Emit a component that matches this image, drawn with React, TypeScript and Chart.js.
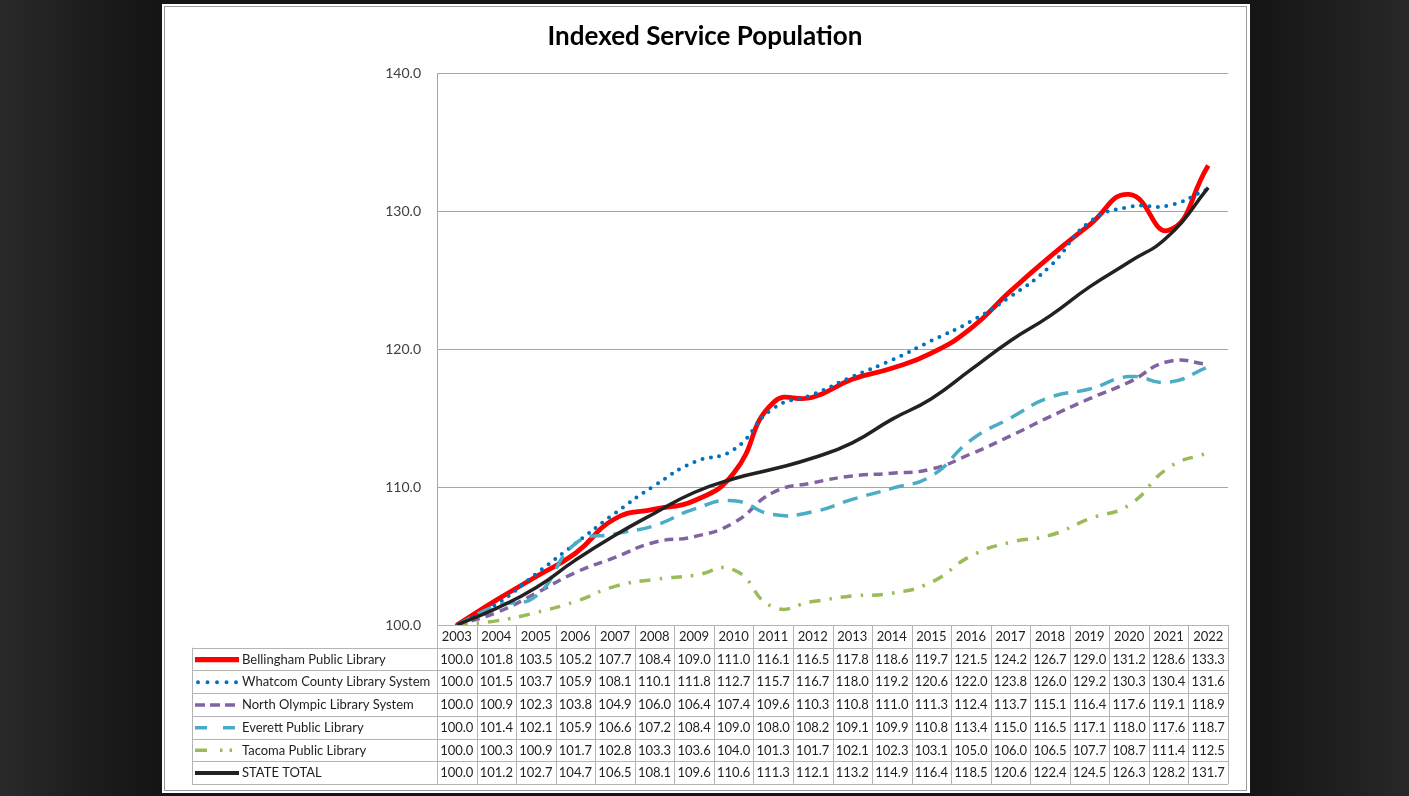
import { useEffect, useRef } from "react";
import { Chart, registerables } from "chart.js";

Chart.register(...registerables);

const title = "Indexed Service Population";
const years = ["2003","2004","2005","2006","2007","2008","2009","2010","2011","2012","2013","2014","2015","2016","2017","2018","2019","2020","2021","2022"];
const bellingham = [100.0,101.8,103.5,105.2,107.7,108.4,109.0,111.0,116.1,116.5,117.8,118.6,119.7,121.5,124.2,126.7,129.0,131.2,128.6,133.3];
const whatcom = [100.0,101.5,103.7,105.9,108.1,110.1,111.8,112.7,115.7,116.7,118.0,119.2,120.6,122.0,123.8,126.0,129.2,130.3,130.4,131.6];
const northOlympic = [100.0,100.9,102.3,103.8,104.9,106.0,106.4,107.4,109.6,110.3,110.8,111.0,111.3,112.4,113.7,115.1,116.4,117.6,119.1,118.9];
const everett = [100.0,101.4,102.1,105.9,106.6,107.2,108.4,109.0,108.0,108.2,109.1,109.9,110.8,113.4,115.0,116.5,117.1,118.0,117.6,118.7];
const tacoma = [100.0,100.3,100.9,101.7,102.8,103.3,103.6,104.0,101.3,101.7,102.1,102.3,103.1,105.0,106.0,106.5,107.7,108.7,111.4,112.5];
const stateTotal = [100.0,101.2,102.7,104.7,106.5,108.1,109.6,110.6,111.3,112.1,113.2,114.9,116.4,118.5,120.6,122.4,124.5,126.3,128.2,131.7];
const yTicks = [100, 110, 120, 130, 140];

type Series = {
  label: string;
  data: number[];
  color: string;
  width: number;
  dash: number[];
  legendDash: number[];
  cap: CanvasLineCap;
  order: number;
};

const series: Series[] = [
  { label: "Bellingham Public Library", data: bellingham, color: "#ff0000", width: 4.8, dash: [], legendDash: [], cap: "butt", order: 6 },
  { label: "Whatcom County Library System", data: whatcom, color: "#0070c0", width: 4, dash: [0, 8.5], legendDash: [0, 9.5], cap: "round", order: 5 },
  { label: "North Olympic Library System", data: northOlympic, color: "#8064a2", width: 3.5, dash: [9, 6], legendDash: [10, 5], cap: "butt", order: 4 },
  { label: "Everett Public Library", data: everett, color: "#4bacc6", width: 3.5, dash: [15, 9], legendDash: [12, 16], cap: "butt", order: 3 },
  { label: "Tacoma Public Library", data: tacoma, color: "#9bbb59", width: 3.5, dash: [11, 9, 2.5, 9], legendDash: [12, 13, 2.5, 7, 2.5, 20], cap: "butt", order: 2 },
  { label: "STATE TOTAL", data: stateTotal, color: "#222222", width: 3.5, dash: [], legendDash: [], cap: "butt", order: 1 },
];

const FONT = "Lato, 'Open Sans', sans-serif";

const decorPlugin = {
  id: "decor",
  beforeDraw(chart: any) {
    const ctx = chart.ctx as CanvasRenderingContext2D;
    const W = chart.width, H = chart.height;
    ctx.save();
    const g = ctx.createLinearGradient(0, 0, W, 0);
    g.addColorStop(0, "#2a2a2a");
    g.addColorStop(0.06, "#1d1d1d");
    g.addColorStop(0.11, "#151515");
    g.addColorStop(0.89, "#151515");
    g.addColorStop(0.95, "#1f1f1f");
    g.addColorStop(1, "#282828");
    ctx.fillStyle = g;
    ctx.fillRect(0, 0, W, H);
    ctx.fillStyle = "#ffffff";
    ctx.fillRect(162, 4, 1088, 789);
    ctx.strokeStyle = "#9a9a9a";
    ctx.lineWidth = 1;
    ctx.strokeRect(164.5, 6.5, 1082, 784);
    ctx.restore();
  },
  afterDraw(chart: any) {
    const ctx = chart.ctx as CanvasRenderingContext2D;
    const xs = chart.scales.x;
    const area = chart.chartArea;
    ctx.save();
    // title
    ctx.fillStyle = "#000000";
    ctx.font = `bold 26px ${FONT}`;
    ctx.textAlign = "center";
    ctx.textBaseline = "alphabetic";
    ctx.fillText(title, 705, 45);

    // table
    const n = years.length;
    const colW = (area.right - area.left) / n;
    const top = area.bottom;
    const rowH = 22.7;
    const tableLeft = 192;
    const rows = series.length + 1;
    const bottom = top + rowH * rows;
    ctx.strokeStyle = "#b4b4b4";
    ctx.lineWidth = 1;
    ctx.beginPath();
    for (let r = 0; r <= rows; r++) {
      const y = Math.round(top + r * rowH) + 0.5;
      ctx.moveTo(r === 0 ? area.left : tableLeft, y);
      ctx.lineTo(area.right, y);
    }
    for (let i = 0; i <= n; i++) {
      const x = Math.round(xs.getPixelForValue(0) - colW / 2 + i * colW) + 0.5;
      ctx.moveTo(x, top);
      ctx.lineTo(x, bottom);
    }
    ctx.moveTo(tableLeft + 0.5, top + rowH);
    ctx.lineTo(tableLeft + 0.5, bottom);
    ctx.stroke();

    ctx.fillStyle = "#1e1e1e";
    ctx.font = `13px ${FONT}`;
    ctx.textAlign = "center";
    ctx.textBaseline = "middle";
    years.forEach((yr, i) => {
      ctx.fillText(yr, xs.getPixelForValue(i), top + rowH / 2 + 0.5);
    });
    series.forEach((s, r) => {
      const cy = top + rowH * (r + 1) + rowH / 2 + 0.5;
      ctx.textAlign = "center";
      s.data.forEach((v, i) => {
        ctx.fillText(v.toFixed(1), xs.getPixelForValue(i), cy);
      });
      ctx.textAlign = "left";
      ctx.fillText(s.label, 242, cy);
      ctx.save();
      ctx.strokeStyle = s.color;
      ctx.lineWidth = s.width + (s.dash.length ? 0 : 0.5);
      ctx.lineCap = s.cap;
      ctx.setLineDash(s.legendDash);
      ctx.beginPath();
      ctx.moveTo(s.cap === "round" ? 198 : 195, cy);
      ctx.lineTo(239, cy);
      ctx.stroke();
      ctx.restore();
    });
    ctx.restore();
  },
};

export default function App() {
  const ref = useRef<HTMLCanvasElement>(null);
  useEffect(() => {
    const chart = new Chart(ref.current as HTMLCanvasElement, {
      type: "line",
      data: {
        labels: years,
        datasets: series.map((s) => ({
          label: s.label,
          data: s.data,
          borderColor: s.color,
          backgroundColor: s.color,
          borderWidth: s.width,
          borderDash: s.dash,
          borderCapStyle: s.cap,
          borderJoinStyle: "round",
          pointRadius: 0,
          pointHoverRadius: 0,
          tension: 0.5,
          fill: false,
          order: s.order,
        })),
      },
      options: {
        responsive: false,
        animation: false,
        devicePixelRatio: 1,
        events: [],
        layout: { padding: { top: 73, bottom: 171, left: 0, right: 181 } },
        plugins: {
          legend: { display: false },
          tooltip: { enabled: false },
          title: { display: false },
        },
        scales: {
          x: {
            type: "category",
            offset: true,
            grid: { display: false },
            border: { display: false },
            ticks: { display: false },
            afterFit: (s: any) => { s.height = 0; },
          },
          y: {
            min: 100,
            max: 140,
            afterBuildTicks: (s: any) => { s.ticks = yTicks.map((v) => ({ value: v })); },
            ticks: {
              callback: (v: any) => Number(v).toFixed(1),
              color: "#404040",
              font: { family: FONT, size: 14 },
              padding: 16,
            },
            grid: { color: "#a6a6a6", drawTicks: false, lineWidth: 1 },
            border: { display: true, color: "#a6a6a6" },
            afterFit: (s: any) => { s.width = 437; },
          },
        },
      },
      plugins: [decorPlugin],
    } as any);
    return () => chart.destroy();
  }, []);
  return (
    <canvas
      ref={ref}
      width={1409}
      height={796}
      style={{ position: "fixed", left: 0, top: 0, width: 1409, height: 796, display: "block" }}
    />
  );
}
